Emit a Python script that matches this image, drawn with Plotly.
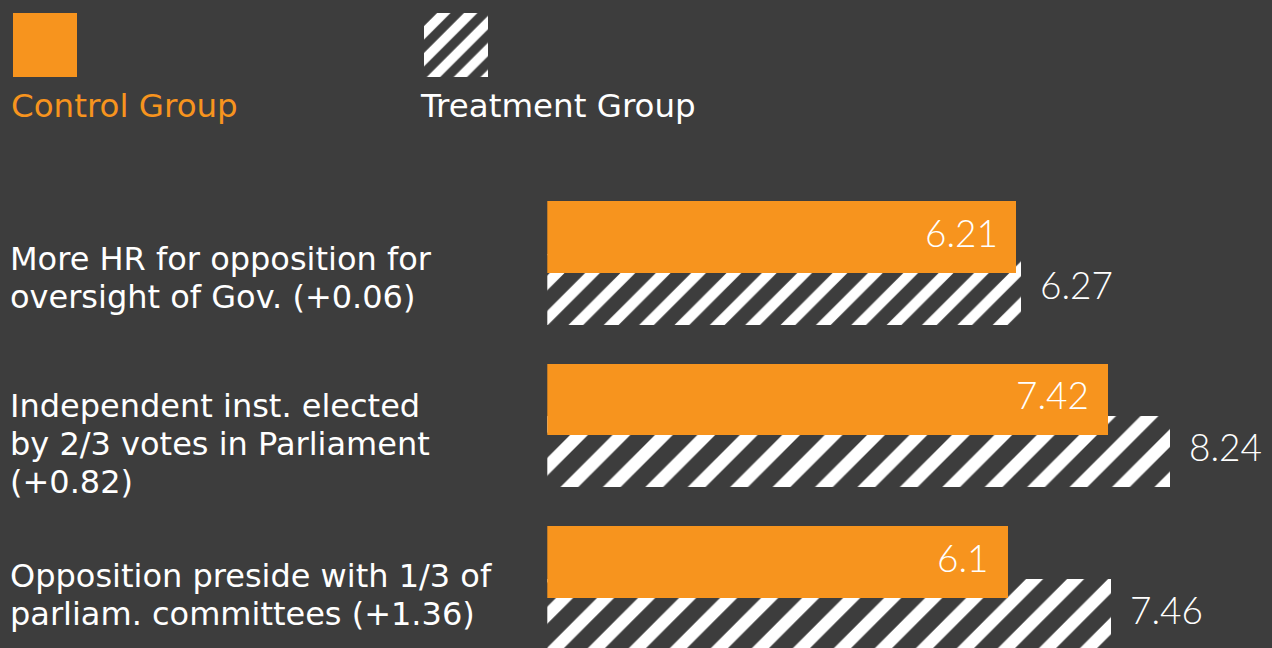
import plotly.graph_objects as go

# ---- data ----
categories = [
    "More HR for opposition for<br>oversight of Gov. (+0.06)",
    "Independent inst. elected<br>by 2/3 votes in Parliament<br>(+0.82)",
    "Opposition preside with 1/3 of<br>parliam. committees (+1.36)",
]
control = [6.21, 7.42, 6.1]
treatment = [6.27, 8.24, 7.46]
control_labels = ["6.21", "7.42", "6.1"]
treatment_labels = ["6.27", "8.24", "7.46"]
series_names = ["Control Group", "Treatment Group"]

# ---- style / layout ----
W, H = 1272, 648
BG = "#3d3d3d"
ORANGE = "#F7941E"
LABEL_FONT = "DejaVu Sans"
VALUE_FONT = "Lato Light, Lato, sans-serif"

x0px = 547.3          # pixel of value 0
xscale = 75.6         # px per unit
sp = 162.5            # px between groups
top0 = 201.2          # pixel top of first control bar
c_off, c_w = 0.0, 71.7 / sp
t_off, t_w = 52.3 / sp, 71.0 / sp

pos = list(range(len(categories)))

hatch_sizes = [25, 30, 29]

fig = go.Figure()
fig.add_trace(go.Bar(
    orientation="h", y=pos, x=treatment, name=series_names[1],
    offset=t_off, width=t_w,
    marker=dict(color="white", line_width=0,
                pattern=dict(shape="/", fgcolor="white", bgcolor=BG,
                             size=hatch_sizes, solidity=0.42,
                             fillmode="replace")),
    hoverinfo="skip", showlegend=False,
))
fig.add_trace(go.Bar(
    orientation="h", y=pos, x=control, name=series_names[0],
    offset=c_off, width=c_w,
    marker=dict(color=ORANGE, line_width=0),
    hoverinfo="skip", showlegend=False,
))

# legend swatches on a pixel-unit helper axis
fig.add_trace(go.Bar(
    orientation="h", y=[44.7], base=[13], x=[63.7], width=[64],
    marker=dict(color=ORANGE, line_width=0),
    xaxis="x2", yaxis="y2", hoverinfo="skip", showlegend=False,
))
fig.add_trace(go.Bar(
    orientation="h", y=[44.7], base=[424], x=[63.5], width=[64],
    marker=dict(color="white", line_width=0,
                pattern=dict(shape="/", fgcolor="white", bgcolor=BG,
                             size=19, solidity=0.5, fillmode="replace")),
    xaxis="x2", yaxis="y2", hoverinfo="skip", showlegend=False,
))

annotations = []
for i in pos:
    annotations.append(dict(
        x=control[i], y=pos[i] + c_off + c_w / 2, xref="x", yref="y",
        text=control_labels[i], showarrow=False, xanchor="right",
        yanchor="middle", xshift=-17, yshift=5,
        font=dict(family=VALUE_FONT, size=37, color="white", weight=300),
    ))
    annotations.append(dict(
        x=treatment[i], y=pos[i] + t_off + t_w / 2, xref="x", yref="y",
        text=treatment_labels[i], showarrow=False, xanchor="left",
        yanchor="middle", xshift=17, yshift=5,
        font=dict(family=VALUE_FONT, size=37, color="white", weight=300),
    ))

# category labels, one annotation per text line
first_line = [57.6, 42.5, 49.3]   # px below the control bar top
line_gap = 38
for i in pos:
    for k, line in enumerate(categories[i].split("<br>")):
        annotations.append(dict(
            x=0, y=pos[i] + c_off, xref="paper", yref="y",
            text=line, showarrow=False, xanchor="left", yanchor="middle",
            align="left", xshift=8, yshift=-(first_line[i] + k * line_gap),
            font=dict(family=LABEL_FONT, size=32, color="white"),
        ))

annotations.append(dict(
    x=11, y=106, xref="x2", yref="y2", text=series_names[0], showarrow=False,
    xanchor="left", yanchor="middle", xshift=-2,
    font=dict(family=LABEL_FONT, size=32.5, color=ORANGE),
))
annotations.append(dict(
    x=420, y=106, xref="x2", yref="y2", text=series_names[1], showarrow=False,
    xanchor="left", yanchor="middle", xshift=-2,
    font=dict(family=LABEL_FONT, size=32.5, color="white"),
))

fig.update_layout(
    width=W, height=H, autosize=False,
    margin=dict(l=0, r=0, t=0, b=0, pad=0),
    paper_bgcolor=BG, plot_bgcolor="rgba(0,0,0,0)",
    barmode="overlay", bargap=0,
    showlegend=False,
    xaxis=dict(domain=[x0px / W, 1], range=[0, (W - x0px) / xscale],
               visible=False, fixedrange=True),
    yaxis=dict(domain=[0, 1], range=[(H - top0) / sp, -top0 / sp],
               visible=False, fixedrange=True),
    xaxis2=dict(domain=[0, 1], range=[0, W], visible=False, anchor="y2",
                fixedrange=True),
    yaxis2=dict(domain=[0, 1], range=[H, 0], visible=False, anchor="x2",
                fixedrange=True),
    annotations=annotations,
)

fig.write_html("out.html", config={"displayModeBar": False})
